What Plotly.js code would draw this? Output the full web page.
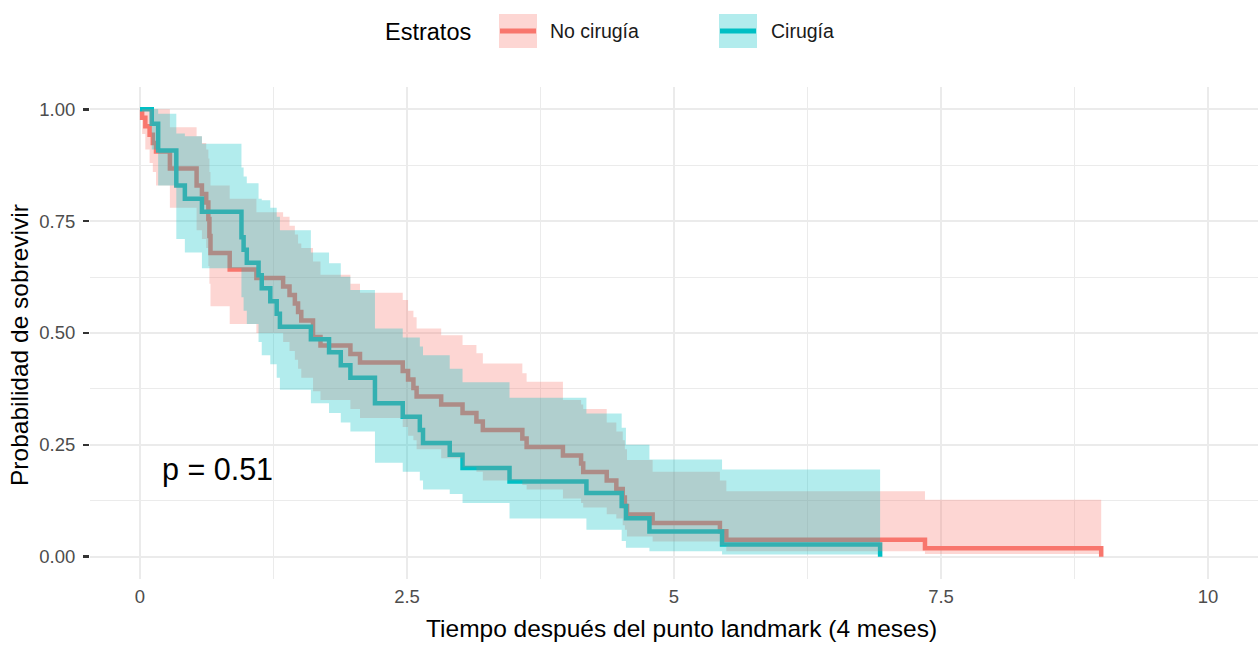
<!DOCTYPE html>
<html><head><meta charset="utf-8">
<script src="https://cdn.plot.ly/plotly-3.0.1.min.js"></script>
<style>html,body{margin:0;padding:0;background:#fff}#chart{width:1258px;height:658px}</style>
</head><body><div id="chart"></div>
<script>
// No cirugía
const timeNo  = [0, 0.02, 0.05, 0.09, 0.12, 0.15, 0.28, 0.53, 0.58, 0.62, 0.64, 0.65, 0.66, 0.84, 1.09, 1.34, 1.40, 1.45, 1.48, 1.51, 1.62, 1.69, 1.97, 2.06, 2.46, 2.51, 2.56, 2.59, 2.82, 3.02, 3.15, 3.21, 3.58, 3.62, 3.96, 4.13, 4.15, 4.37, 4.46, 4.52, 4.54, 4.56, 4.80, 5.43, 5.49, 7.35, 9.00];
const survNo  = [1, 0.981, 0.962, 0.943, 0.925, 0.906, 0.868, 0.830, 0.811, 0.792, 0.755, 0.717, 0.679, 0.642, 0.623, 0.604, 0.585, 0.566, 0.547, 0.528, 0.491, 0.472, 0.453, 0.434, 0.415, 0.396, 0.377, 0.358, 0.340, 0.321, 0.302, 0.283, 0.264, 0.245, 0.226, 0.208, 0.189, 0.170, 0.151, 0.132, 0.113, 0.094, 0.075, 0.057, 0.038, 0.019, 0];
const upperNo = [1, 1, 1, 1, 1, 1, 0.96, 0.94, 0.925, 0.91, 0.89, 0.86, 0.83, 0.80, 0.77, 0.76, 0.74, 0.72, 0.70, 0.69, 0.66, 0.63, 0.61, 0.59, 0.574, 0.55, 0.535, 0.51, 0.495, 0.473, 0.455, 0.432, 0.41, 0.391, 0.35, 0.34, 0.33, 0.30, 0.28, 0.26, 0.24, 0.216, 0.19, 0.17, 0.146, 0.127, 0.127];
const lowerNo = [1, 0.945, 0.91, 0.88, 0.86, 0.83, 0.78, 0.73, 0.71, 0.69, 0.65, 0.61, 0.56, 0.52, 0.50, 0.48, 0.46, 0.44, 0.42, 0.40, 0.37, 0.35, 0.33, 0.31, 0.29, 0.27, 0.26, 0.24, 0.22, 0.20, 0.19, 0.17, 0.16, 0.15, 0.13, 0.12, 0.11, 0.095, 0.085, 0.07, 0.06, 0.045, 0.034, 0.025, 0.012, 0.006, 0.006];

// Cirugía
const timeCir  = [0, 0.11, 0.17, 0.34, 0.42, 0.58, 0.95, 0.97, 1.00, 1.11, 1.14, 1.22, 1.28, 1.31, 1.60, 1.77, 1.88, 1.97, 2.20, 2.46, 2.62, 2.65, 2.90, 3.02, 3.46, 4.18, 4.51, 4.55, 4.77, 5.45, 6.93];
const survCir  = [1, 0.968, 0.908, 0.830, 0.800, 0.771, 0.714, 0.686, 0.657, 0.629, 0.600, 0.571, 0.543, 0.514, 0.486, 0.457, 0.428, 0.400, 0.343, 0.313, 0.283, 0.254, 0.228, 0.198, 0.168, 0.142, 0.113, 0.086, 0.056, 0.027, 0];
const upperCir = [1, 1, 0.99, 0.946, 0.94, 0.923, 0.87, 0.85, 0.835, 0.80, 0.797, 0.78, 0.76, 0.73, 0.68, 0.656, 0.626, 0.596, 0.51, 0.49, 0.47, 0.45, 0.42, 0.39, 0.355, 0.32, 0.288, 0.25, 0.217, 0.195, 0.195];
const lowerCir = [1, 0.91, 0.83, 0.71, 0.68, 0.645, 0.58, 0.55, 0.52, 0.48, 0.45, 0.43, 0.40, 0.373, 0.343, 0.321, 0.30, 0.28, 0.21, 0.19, 0.17, 0.15, 0.14, 0.12, 0.085, 0.06, 0.035, 0.02, 0.012, 0.005, 0.005];

const xTicks = [0, 2.5, 5, 7.5, 10];
const xTickText = ['0', '2.5', '5', '7.5', '10'];
const yTicks = [0, 0.25, 0.5, 0.75, 1];
const yTickText = ['0.00', '0.25', '0.50', '0.75', '1.00'];
const groupNames = ['No cirugía', 'Cirugía'];
const pText = 'p = 0.51';

const RED = '#F8766D', TEAL = '#00BFC4';
const RED_F = 'rgba(248,118,109,0.3)', TEAL_F = 'rgba(0,191,196,0.3)';

function line(x, y, c) {
  return {x, y, type: 'scatter', mode: 'lines', line: {shape: 'hv', color: c, width: 4.5}, hoverinfo: 'skip', showlegend: false};
}
function band(x, lo, hi, fc) {
  return [
    {x, y: lo, type: 'scatter', mode: 'lines', line: {shape: 'hv', width: 0, color: 'rgba(0,0,0,0)'}, hoverinfo: 'skip', showlegend: false},
    {x, y: hi, type: 'scatter', mode: 'lines', fill: 'tonexty', fillcolor: fc, line: {shape: 'hv', width: 0, color: 'rgba(0,0,0,0)'}, hoverinfo: 'skip', showlegend: false}
  ];
}

const data = [
  line(timeNo, survNo, RED),
  line(timeCir, survCir, TEAL),
  ...band(timeNo, lowerNo, upperNo, RED_F),
  ...band(timeCir, lowerCir, upperCir, TEAL_F)
];

// plot area in px: x 90..1258, y 87..579
const L = 90, R = 1258, T = 87, B = 579;
const px = v => (v - L) / (R - L);
const py = v => (B - v) / (B - T);

const shapes = [
  {type: 'rect', xref: 'paper', yref: 'paper', x0: px(499), x1: px(537), y0: py(48), y1: py(14), fillcolor: RED_F, line: {width: 0}},
  {type: 'line', xref: 'paper', yref: 'paper', x0: px(500), x1: px(536), y0: py(31), y1: py(31), line: {color: RED, width: 5}},
  {type: 'rect', xref: 'paper', yref: 'paper', x0: px(719), x1: px(757), y0: py(48), y1: py(14), fillcolor: TEAL_F, line: {width: 0}},
  {type: 'line', xref: 'paper', yref: 'paper', x0: px(720), x1: px(756), y0: py(31), y1: py(31), line: {color: TEAL, width: 5}}
];

const FONT = 'Liberation Sans, Arial, sans-serif';
const annotations = [
  {xref: 'paper', yref: 'paper', x: px(383), y: py(32), xanchor: 'left', yanchor: 'middle', text: 'Estratos', showarrow: false, font: {size: 23.5, color: '#000', family: FONT}},
  {xref: 'paper', yref: 'paper', x: px(548), y: py(31), xanchor: 'left', yanchor: 'middle', text: groupNames[0], showarrow: false, font: {size: 19.5, color: '#1a1a1a', family: FONT}},
  {xref: 'paper', yref: 'paper', x: px(769), y: py(31), xanchor: 'left', yanchor: 'middle', text: groupNames[1], showarrow: false, font: {size: 19.5, color: '#1a1a1a', family: FONT}},
  {xref: 'paper', yref: 'paper', x: px(681), y: py(628), xanchor: 'center', yanchor: 'middle', text: 'Tiempo después del punto landmark (4 meses)', showarrow: false, font: {size: 24.5, color: '#000', family: FONT}},
  {xref: 'paper', yref: 'paper', x: px(19), y: py(345), xanchor: 'center', yanchor: 'middle', textangle: -90, text: 'Probabilidad de sobrevivir', showarrow: false, font: {size: 24.5, color: '#000', family: FONT}},
  {xref: 'x', yref: 'y', x: 0.19, y: 0.194, xanchor: 'left', yanchor: 'middle', text: pText, showarrow: false, font: {size: 30.5, color: '#000', family: FONT}}
];

const layout = {
  width: 1258, height: 658,
  margin: {l: L, r: 1258 - R, t: T, b: 658 - B, pad: 0},
  paper_bgcolor: '#fff', plot_bgcolor: '#fff',
  showlegend: false,
  font: {family: FONT},
  xaxis: {
    range: [(L - 140) / 106.8, (R - 140) / 106.8],
    tickvals: xTicks, ticktext: xTickText,
    showgrid: true, gridcolor: '#EBEBEB', gridwidth: 2,
    minor: {showgrid: true, dtick: 1.25, gridcolor: '#EBEBEB', gridwidth: 1},
    zeroline: false, showline: false, ticks: '',
    tickfont: {size: 18.5, color: '#4D4D4D', family: FONT},
    ticklabelstandoff: 4
  },
  yaxis: {
    range: [-0.05, 1.05],
    tickvals: yTicks, ticktext: yTickText,
    showgrid: true, gridcolor: '#EBEBEB', gridwidth: 2,
    minor: {showgrid: true, dtick: 0.125, gridcolor: '#EBEBEB', gridwidth: 1},
    zeroline: false, showline: false,
    ticks: 'outside', ticklen: 6, tickwidth: 2.5, tickcolor: '#333',
    tickfont: {size: 18.5, color: '#4D4D4D', family: FONT},
    ticklabelstandoff: 4
  },
  shapes, annotations
};

Plotly.newPlot('chart', data, layout, {staticPlot: true, displayModeBar: false});
</script></body></html>
